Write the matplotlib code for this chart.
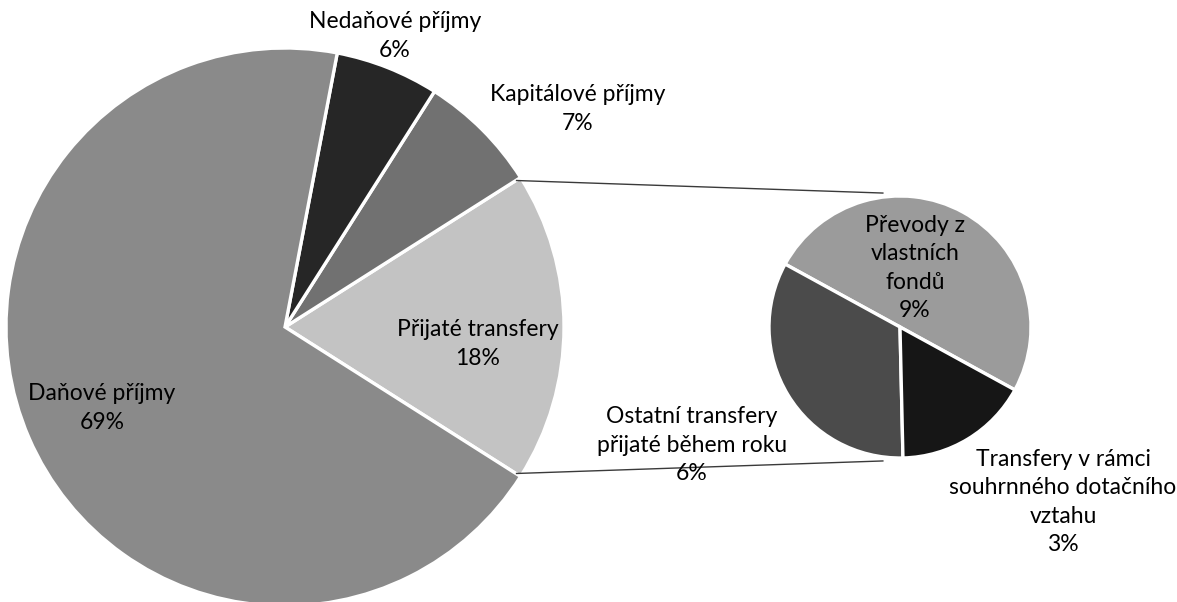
import matplotlib
matplotlib.use("Agg")
import matplotlib.pyplot as plt
import numpy as np

# ---- data ----
main_labels = ["Přijaté transfery", "Kapitálové příjmy", "Nedaňové příjmy", "Daňové příjmy"]
main_values = [18, 7, 6, 69]
sub_labels = ["Převody z\nvlastních\nfondů", "Ostatní transfery\npřijaté během roku",
              "Transfery v rámci\nsouhrnného dotačního\nvztahu"]
sub_values = [9, 6, 3]

# ---- style ----
main_colors = ["#c3c3c3", "#717171", "#262626", "#8a8a8a"]
sub_colors = ["#9b9b9b", "#4b4b4b", "#161616"]
W, H = 1177, 602
FONT = "Lato"
FS = 16.5
LS = 1.42

fig = plt.figure(figsize=(W / 100, H / 100), dpi=100)
ax = fig.add_axes([0, 0, 1, 1])

main_c = (285, H - 327)
main_r = 279
sub_c = (900, H - 327)
sub_r = 131

total = sum(main_values)
main_start = -main_values[0] / total * 360 / 2
ax.pie(main_values, colors=main_colors, startangle=main_start, counterclock=True,
       center=main_c, radius=main_r,
       wedgeprops=dict(edgecolor="white", linewidth=2.4))

sub_start = -28.7
ax.pie(sub_values, colors=sub_colors, startangle=sub_start, counterclock=True,
       center=sub_c, radius=sub_r,
       wedgeprops=dict(edgecolor="white", linewidth=2.4))

# connector lines
a1 = np.deg2rad(main_start + main_values[0] / total * 360)
a0 = np.deg2rad(main_start)
for am, asub in [(a1, np.deg2rad(97)), (a0, np.deg2rad(-97))]:
    x0 = main_c[0] + main_r * 0.98 * np.cos(am)
    y0 = main_c[1] + main_r * 0.98 * np.sin(am)
    x1 = sub_c[0] + sub_r * 1.03 * np.cos(asub)
    y1 = sub_c[1] + sub_r * 1.03 * np.sin(asub)
    ax.plot([x0, x1], [y0, y1], color="#3a3a3a", lw=1.0, solid_capstyle="butt")

# labels (layout positions in pixel coords)
main_pos = [(478, 344), (578, 109), (395, 36), (102, 408)]
sub_pos = [(915, 268), (692, 445), (1063, 502)]

for lab, v, (px, py) in zip(main_labels, main_values, main_pos):
    ax.text(px, H - py, f"{lab}\n{v}%", ha="center", va="center", multialignment="center",
            fontsize=FS, family=FONT, color="black", linespacing=LS)
for lab, v, (px, py) in zip(sub_labels, sub_values, sub_pos):
    ax.text(px, H - py, f"{lab}\n{v}%", ha="center", va="center", multialignment="center",
            fontsize=FS, family=FONT, color="black", linespacing=LS)

ax.set_xlim(0, W)
ax.set_ylim(0, H)
ax.set_aspect("auto")
ax.axis("off")
fig.savefig("out.png", dpi=100)
